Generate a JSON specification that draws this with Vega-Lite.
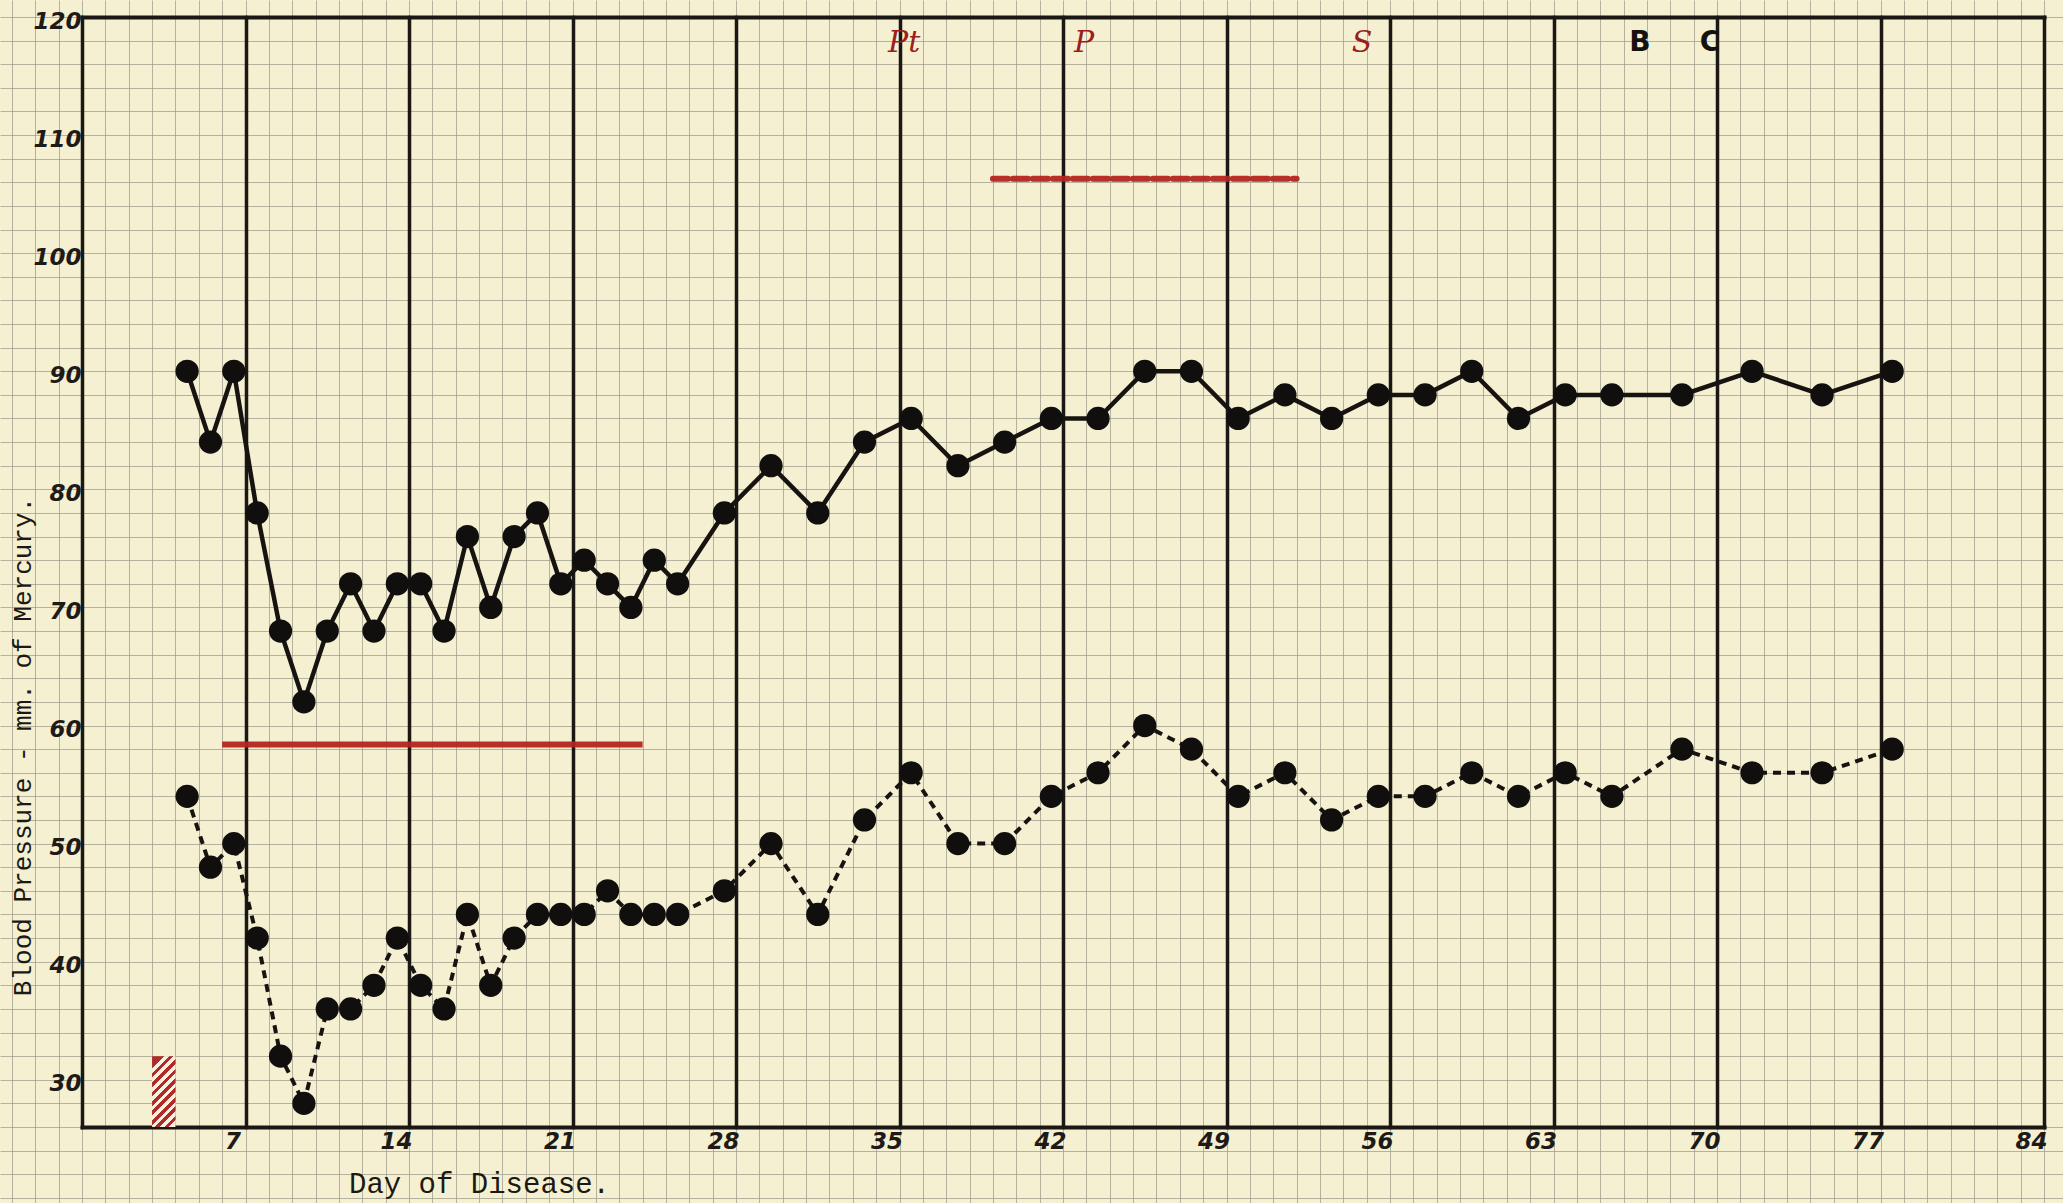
{
  "$schema": "https://vega.github.io/schema/vega-lite/v6.json",
  "width": 2063,
  "height": 1203,
  "autosize": {"type": "none"},
  "padding": 0,
  "background": "#f4f0d1",
  "config": {"view": {"stroke": null}},
  "datasets": {
    "bp": [
      {"day":4.5,"mmHg":90,"series":"systolic"},{"day":5.5,"mmHg":84,"series":"systolic"},{"day":6.5,"mmHg":90,"series":"systolic"},{"day":7.5,"mmHg":78,"series":"systolic"},{"day":8.5,"mmHg":68,"series":"systolic"},{"day":9.5,"mmHg":62,"series":"systolic"},{"day":10.5,"mmHg":68,"series":"systolic"},{"day":11.5,"mmHg":72,"series":"systolic"},{"day":12.5,"mmHg":68,"series":"systolic"},{"day":13.5,"mmHg":72,"series":"systolic"},{"day":14.5,"mmHg":72,"series":"systolic"},{"day":15.5,"mmHg":68,"series":"systolic"},{"day":16.5,"mmHg":76,"series":"systolic"},{"day":17.5,"mmHg":70,"series":"systolic"},{"day":18.5,"mmHg":76,"series":"systolic"},{"day":19.5,"mmHg":78,"series":"systolic"},{"day":20.5,"mmHg":72,"series":"systolic"},{"day":21.5,"mmHg":74,"series":"systolic"},{"day":22.5,"mmHg":72,"series":"systolic"},{"day":23.5,"mmHg":70,"series":"systolic"},{"day":24.5,"mmHg":74,"series":"systolic"},{"day":25.5,"mmHg":72,"series":"systolic"},{"day":27.5,"mmHg":78,"series":"systolic"},{"day":29.5,"mmHg":82,"series":"systolic"},{"day":31.5,"mmHg":78,"series":"systolic"},{"day":33.5,"mmHg":84,"series":"systolic"},{"day":35.5,"mmHg":86,"series":"systolic"},{"day":37.5,"mmHg":82,"series":"systolic"},{"day":39.5,"mmHg":84,"series":"systolic"},{"day":41.5,"mmHg":86,"series":"systolic"},{"day":43.5,"mmHg":86,"series":"systolic"},{"day":45.5,"mmHg":90,"series":"systolic"},{"day":47.5,"mmHg":90,"series":"systolic"},{"day":49.5,"mmHg":86,"series":"systolic"},{"day":51.5,"mmHg":88,"series":"systolic"},{"day":53.5,"mmHg":86,"series":"systolic"},{"day":55.5,"mmHg":88,"series":"systolic"},{"day":57.5,"mmHg":88,"series":"systolic"},{"day":59.5,"mmHg":90,"series":"systolic"},{"day":61.5,"mmHg":86,"series":"systolic"},{"day":63.5,"mmHg":88,"series":"systolic"},{"day":65.5,"mmHg":88,"series":"systolic"},{"day":68.5,"mmHg":88,"series":"systolic"},{"day":71.5,"mmHg":90,"series":"systolic"},{"day":74.5,"mmHg":88,"series":"systolic"},{"day":77.5,"mmHg":90,"series":"systolic"},
      {"day":4.5,"mmHg":54,"series":"diastolic"},{"day":5.5,"mmHg":48,"series":"diastolic"},{"day":6.5,"mmHg":50,"series":"diastolic"},{"day":7.5,"mmHg":42,"series":"diastolic"},{"day":8.5,"mmHg":32,"series":"diastolic"},{"day":9.5,"mmHg":28,"series":"diastolic"},{"day":10.5,"mmHg":36,"series":"diastolic"},{"day":11.5,"mmHg":36,"series":"diastolic"},{"day":12.5,"mmHg":38,"series":"diastolic"},{"day":13.5,"mmHg":42,"series":"diastolic"},{"day":14.5,"mmHg":38,"series":"diastolic"},{"day":15.5,"mmHg":36,"series":"diastolic"},{"day":16.5,"mmHg":44,"series":"diastolic"},{"day":17.5,"mmHg":38,"series":"diastolic"},{"day":18.5,"mmHg":42,"series":"diastolic"},{"day":19.5,"mmHg":44,"series":"diastolic"},{"day":20.5,"mmHg":44,"series":"diastolic"},{"day":21.5,"mmHg":44,"series":"diastolic"},{"day":22.5,"mmHg":46,"series":"diastolic"},{"day":23.5,"mmHg":44,"series":"diastolic"},{"day":24.5,"mmHg":44,"series":"diastolic"},{"day":25.5,"mmHg":44,"series":"diastolic"},{"day":27.5,"mmHg":46,"series":"diastolic"},{"day":29.5,"mmHg":50,"series":"diastolic"},{"day":31.5,"mmHg":44,"series":"diastolic"},{"day":33.5,"mmHg":52,"series":"diastolic"},{"day":35.5,"mmHg":56,"series":"diastolic"},{"day":37.5,"mmHg":50,"series":"diastolic"},{"day":39.5,"mmHg":50,"series":"diastolic"},{"day":41.5,"mmHg":54,"series":"diastolic"},{"day":43.5,"mmHg":56,"series":"diastolic"},{"day":45.5,"mmHg":60,"series":"diastolic"},{"day":47.5,"mmHg":58,"series":"diastolic"},{"day":49.5,"mmHg":54,"series":"diastolic"},{"day":51.5,"mmHg":56,"series":"diastolic"},{"day":53.5,"mmHg":52,"series":"diastolic"},{"day":55.5,"mmHg":54,"series":"diastolic"},{"day":57.5,"mmHg":54,"series":"diastolic"},{"day":59.5,"mmHg":56,"series":"diastolic"},{"day":61.5,"mmHg":54,"series":"diastolic"},{"day":63.5,"mmHg":56,"series":"diastolic"},{"day":65.5,"mmHg":54,"series":"diastolic"},{"day":68.5,"mmHg":58,"series":"diastolic"},{"day":71.5,"mmHg":56,"series":"diastolic"},{"day":74.5,"mmHg":56,"series":"diastolic"},{"day":77.5,"mmHg":58,"series":"diastolic"}
    ],
    "events": [
      {"day":35.2,"mark":"Pt","ink":"red"},{"day":42.9,"mark":"P","ink":"red"},{"day":54.8,"mark":"S","ink":"red"},{"day":66.7,"mark":"B","ink":"black"},{"day":69.7,"mark":"C","ink":"black"}
    ],
    "periods": [
      {"from":6,"to":24,"mmHg":58.4,"kind":"solid"},
      {"from":39,"to":52,"mmHg":106.3,"kind":"dashed"}
    ],
    "hatch": [{"from":3,"to":4,"low":26,"high":32}]
  },
  "layer": [
    {
      "mark": {"type": "rect", "fill": {"gradient": "linear", "x1": 0, "y1": 0, "x2": 1, "y2": 0, "stops": [{"offset": 0, "color": "#f4f0d1"}, {"offset": 0.4, "color": "#e8cf94"}, {"offset": 1, "color": "#f4f0d1"}]}, "opacity": 0.7},
      "encoding": {
        "x": {"datum": 49.2, "type": "quantitative", "scale": {"domain": [-3.511, 84.813], "nice": false, "zero": false}, "axis": null},
        "x2": {"datum": 53.2}
      }
    },
    {
      "data": {"name": "bp"},
      "transform": [{"filter": "datum.series === 'systolic'"}],
      "mark": {"type": "point", "opacity": 0},
      "encoding": {
        "x": {"field": "day", "type": "quantitative", "scale": {"domain": [-3.511, 84.813], "nice": false, "zero": false},
              "axis": {"orient": "bottom", "values": [-3,-2,-1,0,1,2,3,4,5,6,7,8,9,10,11,12,13,14,15,16,17,18,19,20,21,22,23,24,25,26,27,28,29,30,31,32,33,34,35,36,37,38,39,40,41,42,43,44,45,46,47,48,49,50,51,52,53,54,55,56,57,58,59,60,61,62,63,64,65,66,67,68,69,70,71,72,73,74,75,76,77,78,79,80,81,82,83,84],
                       "grid": true, "gridColor": "#9f9c8a", "gridWidth": 1, "gridOpacity": 0.75, "ticks": false, "labels": false, "domain": false, "title": null}},
        "y": {"field": "mmHg", "type": "quantitative", "scale": {"domain": [19.564, 121.44], "nice": false, "zero": false},
              "axis": {"orient": "left", "values": [20,22,24,26,28,30,32,34,36,38,40,42,44,46,48,50,52,54,56,58,60,62,64,66,68,70,72,74,76,78,80,82,84,86,88,90,92,94,96,98,100,102,104,106,108,110,112,114,116,118,120],
                       "grid": true, "gridColor": "#9f9c8a", "gridWidth": 1, "gridOpacity": 0.75, "ticks": false, "labels": false, "domain": false, "title": null}}
      }
    },
    {
      "data": {"name": "bp"},
      "transform": [{"filter": "datum.series === 'diastolic'"}],
      "mark": {"type": "point", "opacity": 0},
      "encoding": {
        "x": {"field": "day", "type": "quantitative", "scale": {"domain": [-3.511, 84.813], "nice": false, "zero": false},
              "axis": {"orient": "bottom", "offset": -76, "values": [0,7,14,21,28,35,42,49,56,63,70,77,84], "grid": false, "ticks": true, "tickSize": -1110, "tickWidth": 3.5, "tickColor": "#1b1714", "tickCap": "square", "labels": false, "domain": false, "title": null}},
        "y": {"field": "mmHg", "type": "quantitative", "scale": {"domain": [19.564, 121.44], "nice": false, "zero": false},
              "axis": {"orient": "left", "offset": -82, "values": [26,120], "grid": false, "ticks": true, "tickSize": -1962, "tickWidth": 4, "tickColor": "#1b1714", "tickCap": "square", "labels": false, "domain": false, "title": null}}
      }
    },
    {
      "data": {"name": "hatch"},
      "mark": {"type": "point", "opacity": 0},
      "encoding": {
        "x": {"field": "from", "type": "quantitative", "scale": {"domain": [-3.511, 84.813], "nice": false, "zero": false},
              "axis": {"orient": "bottom", "offset": -76, "values": [7,14,21,28,35,42,49,56,63,70,77,84], "grid": false, "ticks": false, "tickSize": 0, "domain": false,
                       "labelPadding": 3, "labelOffset": -13, "labelFont": "DejaVu Sans", "labelFontStyle": "italic", "labelFontWeight": "bold", "labelFontSize": 23, "labelColor": "#1e1a17", "labelFlush": false, "labelOverlap": false,
                       "title": "Day of Disease.", "titleFont": "Liberation Mono", "titleFontSize": 29, "titleFontWeight": "normal", "titleColor": "#1c1915", "titleX": 479, "titleY": 56, "titleAlign": "center", "titleBaseline": "middle", "titleAnchor": null}},
        "y": {"field": "low", "type": "quantitative", "scale": {"domain": [19.564, 121.44], "nice": false, "zero": false},
              "axis": {"orient": "left", "offset": -82, "values": [30,40,50,60,70,80,90,100,110,120], "grid": false, "ticks": false, "tickSize": 0, "domain": false,
                       "labelPadding": 1, "labelOffset": 4, "labelFont": "DejaVu Sans", "labelFontStyle": "italic", "labelFontWeight": "bold", "labelFontSize": 23, "labelColor": "#1e1a17", "labelFlush": false, "labelOverlap": false,
                       "title": "Blood Pressure - mm. of Mercury.", "titleFont": "Liberation Mono", "titleFontSize": 26, "titleFontWeight": "normal", "titleColor": "#1c1915", "titleX": -60, "titleY": 746, "titleAngle": -90, "titleAlign": "center", "titleBaseline": "middle", "titleAnchor": null}}
      }
    },
    {
      "data": {"name": "hatch"},
      "mark": {"type": "rect", "fill": {"gradient": "linear", "x1": 0, "y1": 0, "x2": 0.396, "y2": 1.2, "stops": [
        {"offset": 0, "color": "#b02a27"}, {"offset": 0.13, "color": "#b02a27"}, {"offset": 0.13, "color": "#f6f1e0"}, {"offset": 0.18, "color": "#f6f1e0"},
        {"offset": 0.18, "color": "#b02a27"}, {"offset": 0.23, "color": "#b02a27"}, {"offset": 0.23, "color": "#f6f1e0"}, {"offset": 0.28, "color": "#f6f1e0"},
        {"offset": 0.28, "color": "#b02a27"}, {"offset": 0.33, "color": "#b02a27"}, {"offset": 0.33, "color": "#f6f1e0"}, {"offset": 0.38, "color": "#f6f1e0"},
        {"offset": 0.38, "color": "#b02a27"}, {"offset": 0.43, "color": "#b02a27"}, {"offset": 0.43, "color": "#f6f1e0"}, {"offset": 0.48, "color": "#f6f1e0"},
        {"offset": 0.48, "color": "#b02a27"}, {"offset": 0.53, "color": "#b02a27"}, {"offset": 0.53, "color": "#f6f1e0"}, {"offset": 0.58, "color": "#f6f1e0"},
        {"offset": 0.58, "color": "#b02a27"}, {"offset": 0.63, "color": "#b02a27"}, {"offset": 0.63, "color": "#f6f1e0"}, {"offset": 0.68, "color": "#f6f1e0"},
        {"offset": 0.68, "color": "#b02a27"}, {"offset": 0.73, "color": "#b02a27"}, {"offset": 0.73, "color": "#f6f1e0"}, {"offset": 0.78, "color": "#f6f1e0"},
        {"offset": 0.78, "color": "#b02a27"}, {"offset": 0.83, "color": "#b02a27"}, {"offset": 0.83, "color": "#f6f1e0"}, {"offset": 0.88, "color": "#f6f1e0"},
        {"offset": 0.88, "color": "#b02a27"}, {"offset": 0.93, "color": "#b02a27"}, {"offset": 0.93, "color": "#f6f1e0"}, {"offset": 1, "color": "#f6f1e0"}
      ]}},
      "encoding": {
        "x": {"field": "from", "type": "quantitative", "scale": {"domain": [-3.511, 84.813], "nice": false, "zero": false}, "axis": null},
        "x2": {"field": "to"},
        "y": {"field": "low", "type": "quantitative", "scale": {"domain": [19.564, 121.44], "nice": false, "zero": false}, "axis": null},
        "y2": {"field": "high"}
      }
    },
    {
      "data": {"name": "periods"},
      "transform": [{"filter": "datum.kind === 'solid'"}],
      "mark": {"type": "rule", "color": "#b3241f", "strokeWidth": 6, "opacity": 0.95},
      "encoding": {
        "x": {"field": "from", "type": "quantitative", "scale": {"domain": [-3.511, 84.813], "nice": false, "zero": false}, "axis": null},
        "x2": {"field": "to"},
        "y": {"field": "mmHg", "type": "quantitative", "scale": {"domain": [19.564, 121.44], "nice": false, "zero": false}, "axis": null}
      }
    },
    {
      "data": {"name": "periods"},
      "transform": [{"filter": "datum.kind === 'dashed'"}],
      "mark": {"type": "rule", "color": "#b3241f", "strokeWidth": 6, "strokeDash": [15, 5], "strokeCap": "round", "opacity": 0.95},
      "encoding": {
        "x": {"field": "from", "type": "quantitative", "scale": {"domain": [-3.511, 84.813], "nice": false, "zero": false}, "axis": null},
        "x2": {"field": "to"},
        "y": {"field": "mmHg", "type": "quantitative", "scale": {"domain": [19.564, 121.44], "nice": false, "zero": false}, "axis": null}
      }
    },
    {
      "data": {"name": "bp"},
      "transform": [{"filter": "datum.series === 'systolic'"}],
      "mark": {"type": "line", "color": "#161310", "strokeWidth": 4.5},
      "encoding": {
        "x": {"field": "day", "type": "quantitative", "scale": {"domain": [-3.511, 84.813], "nice": false, "zero": false}, "axis": null},
        "y": {"field": "mmHg", "type": "quantitative", "scale": {"domain": [19.564, 121.44], "nice": false, "zero": false}, "axis": null}
      }
    },
    {
      "data": {"name": "bp"},
      "transform": [{"filter": "datum.series === 'diastolic'"}],
      "mark": {"type": "line", "color": "#161310", "strokeWidth": 4, "strokeDash": [8, 6]},
      "encoding": {
        "x": {"field": "day", "type": "quantitative", "scale": {"domain": [-3.511, 84.813], "nice": false, "zero": false}, "axis": null},
        "y": {"field": "mmHg", "type": "quantitative", "scale": {"domain": [19.564, 121.44], "nice": false, "zero": false}, "axis": null}
      }
    },
    {
      "data": {"name": "bp"},
      "mark": {"type": "circle", "color": "#110f0d", "size": 540, "opacity": 1},
      "encoding": {
        "x": {"field": "day", "type": "quantitative", "scale": {"domain": [-3.511, 84.813], "nice": false, "zero": false}, "axis": null},
        "y": {"field": "mmHg", "type": "quantitative", "scale": {"domain": [19.564, 121.44], "nice": false, "zero": false}, "axis": null}
      }
    },
    {
      "data": {"name": "events"},
      "transform": [{"filter": "datum.ink === 'red'"}],
      "mark": {"type": "text", "font": "DejaVu Serif", "fontStyle": "italic", "fontSize": 30, "color": "#9c1d1b", "align": "center", "baseline": "middle"},
      "encoding": {
        "x": {"field": "day", "type": "quantitative", "scale": {"domain": [-3.511, 84.813], "nice": false, "zero": false}, "axis": null},
        "y": {"datum": 117.8, "type": "quantitative", "scale": {"domain": [19.564, 121.44], "nice": false, "zero": false}, "axis": null},
        "text": {"field": "mark"}
      }
    },
    {
      "data": {"name": "events"},
      "transform": [{"filter": "datum.ink === 'black'"}],
      "mark": {"type": "text", "font": "DejaVu Sans", "fontWeight": "bold", "fontSize": 28, "color": "#141210", "align": "center", "baseline": "middle"},
      "encoding": {
        "x": {"field": "day", "type": "quantitative", "scale": {"domain": [-3.511, 84.813], "nice": false, "zero": false}, "axis": null},
        "y": {"datum": 117.8, "type": "quantitative", "scale": {"domain": [19.564, 121.44], "nice": false, "zero": false}, "axis": null},
        "text": {"field": "mark"}
      }
    }
  ],
  "resolve": {"axis": {"x": "independent", "y": "independent"}}
}
